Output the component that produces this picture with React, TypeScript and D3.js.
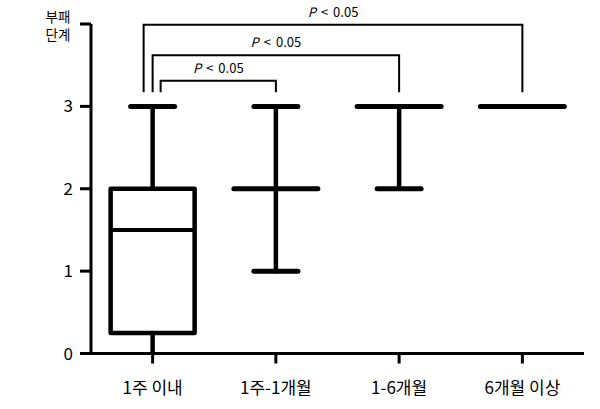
import React from 'react';
import * as d3 from 'd3';

const categories = ['1주 이내', '1주-1개월', '1-6개월', '6개월 이상'];
const mins = [0, 1, 2, 3];
const q1s = [0.25, 2, 3, 3];
const medians = [1.5, 2, 3, 3];
const q3s = [2, 2, 3, 3];
const maxs = [3, 3, 3, 3];

const yTicks = [0, 1, 2, 3, 4];
const yTickLabels = ['0', '1', '2', '3', ''];

// significance brackets: from group 0 to group `to`, top level in data units
const bracketTo = [1, 2, 3];
const bracketTop = [3.31, 3.62, 3.99];
const bracketLeftShift = [8, 0, -9];
const bracketBottom = 3.17;
const bracketLabel = '0.05';

const width = 600;
const height = 409;
const font = '"Noto Sans CJK KR", "Noto Sans", sans-serif';

function App() {
  const x = d3.scaleBand().domain(categories).range([91, 584]).padding(0);
  const y = d3.scaleLinear().domain([0, 4]).range([353.5, 24]);
  const cx = (i: number) => (x(categories[i]) as number) + x.bandwidth() / 2;
  const boxW = 84;
  const capW = 44;

  return (
    <svg width={width} height={height} style={{ position: 'absolute', left: 0, top: 0, background: '#fff' }}>
      {/* y axis */}
      <line x1={91} x2={91} y1={y(4)} y2={y(0)} stroke="#000" strokeWidth={3} />
      {yTicks.map((t, i) => (
        <g key={t}>
          <line x1={80} x2={91} y1={y(t)} y2={y(t)} stroke="#000" strokeWidth={3} />
          <text x={73} y={y(t)} dy="0.36em" textAnchor="end" fontSize={17} fontFamily={font} fill="#000">
            {yTickLabels[i]}
          </text>
        </g>
      ))}
      <text x={58} y={22} textAnchor="middle" fontSize={13.5} fontFamily={font} fill="#000">부패</text>
      <text x={58} y={40} textAnchor="middle" fontSize={13.5} fontFamily={font} fill="#000">단계</text>

      {/* x axis */}
      <line x1={80} x2={584} y1={y(0)} y2={y(0)} stroke="#000" strokeWidth={3} />
      {categories.map((c, i) => (
        <g key={c}>
          <line x1={cx(i)} x2={cx(i)} y1={y(0)} y2={y(0) + 10} stroke="#000" strokeWidth={3} />
          <text x={cx(i)} y={394} textAnchor="middle" fontSize={17} fontFamily={font} fill="#000">
            {c}
          </text>
        </g>
      ))}

      {/* boxes */}
      {categories.map((c, i) => {
        const xc = cx(i);
        return (
          <g key={c} stroke="#000" fill="none" strokeLinecap="round">
            <line x1={xc} x2={xc} y1={y(maxs[i])} y2={y(q3s[i])} strokeWidth={4.5} />
            <line x1={xc} x2={xc} y1={y(q1s[i])} y2={y(mins[i])} strokeWidth={4.5} />
            <line x1={xc - capW / 2} x2={xc + capW / 2} y1={y(maxs[i])} y2={y(maxs[i])} strokeWidth={5} />
            <line x1={xc - capW / 2} x2={xc + capW / 2} y1={y(mins[i])} y2={y(mins[i])} strokeWidth={i === 0 ? 2 : 5} />
            {q3s[i] > q1s[i] ? (
              <rect
                x={xc - boxW / 2}
                y={y(q3s[i])}
                width={boxW}
                height={y(q1s[i]) - y(q3s[i])}
                strokeWidth={4.5}
                strokeLinejoin="round"
                strokeLinecap="butt"
              />
            ) : null}
            <line
              x1={xc - boxW / 2}
              x2={xc + boxW / 2}
              y1={y(medians[i])}
              y2={y(medians[i])}
              strokeWidth={q3s[i] > q1s[i] ? 4 : 5}
              strokeLinecap={q3s[i] > q1s[i] ? 'butt' : 'round'}
            />
          </g>
        );
      })}

      {/* brackets */}
      {bracketTo.map((to, k) => {
        const x0 = cx(0) + bracketLeftShift[k];
        const x1 = cx(to);
        const yt = y(bracketTop[k]);
        const yb = y(bracketBottom);
        return (
          <g key={to}>
            <path
              d={`M${x0},${yb}V${yt}H${x1}V${yb}`}
              fill="none"
              stroke="#000"
              strokeWidth={2}
            />
            <text
              x={(x0 + x1) / 2}
              y={yt - 8}
              textAnchor="middle"
              fontSize={13}
              fontFamily={font}
              fill="#000"
            >
              <tspan fontStyle="italic">P</tspan>
              <tspan dx={5}>{'<'}</tspan>
              <tspan dx={5}>{bracketLabel}</tspan>
            </text>
          </g>
        );
      })}
    </svg>
  );
}

export default App;
